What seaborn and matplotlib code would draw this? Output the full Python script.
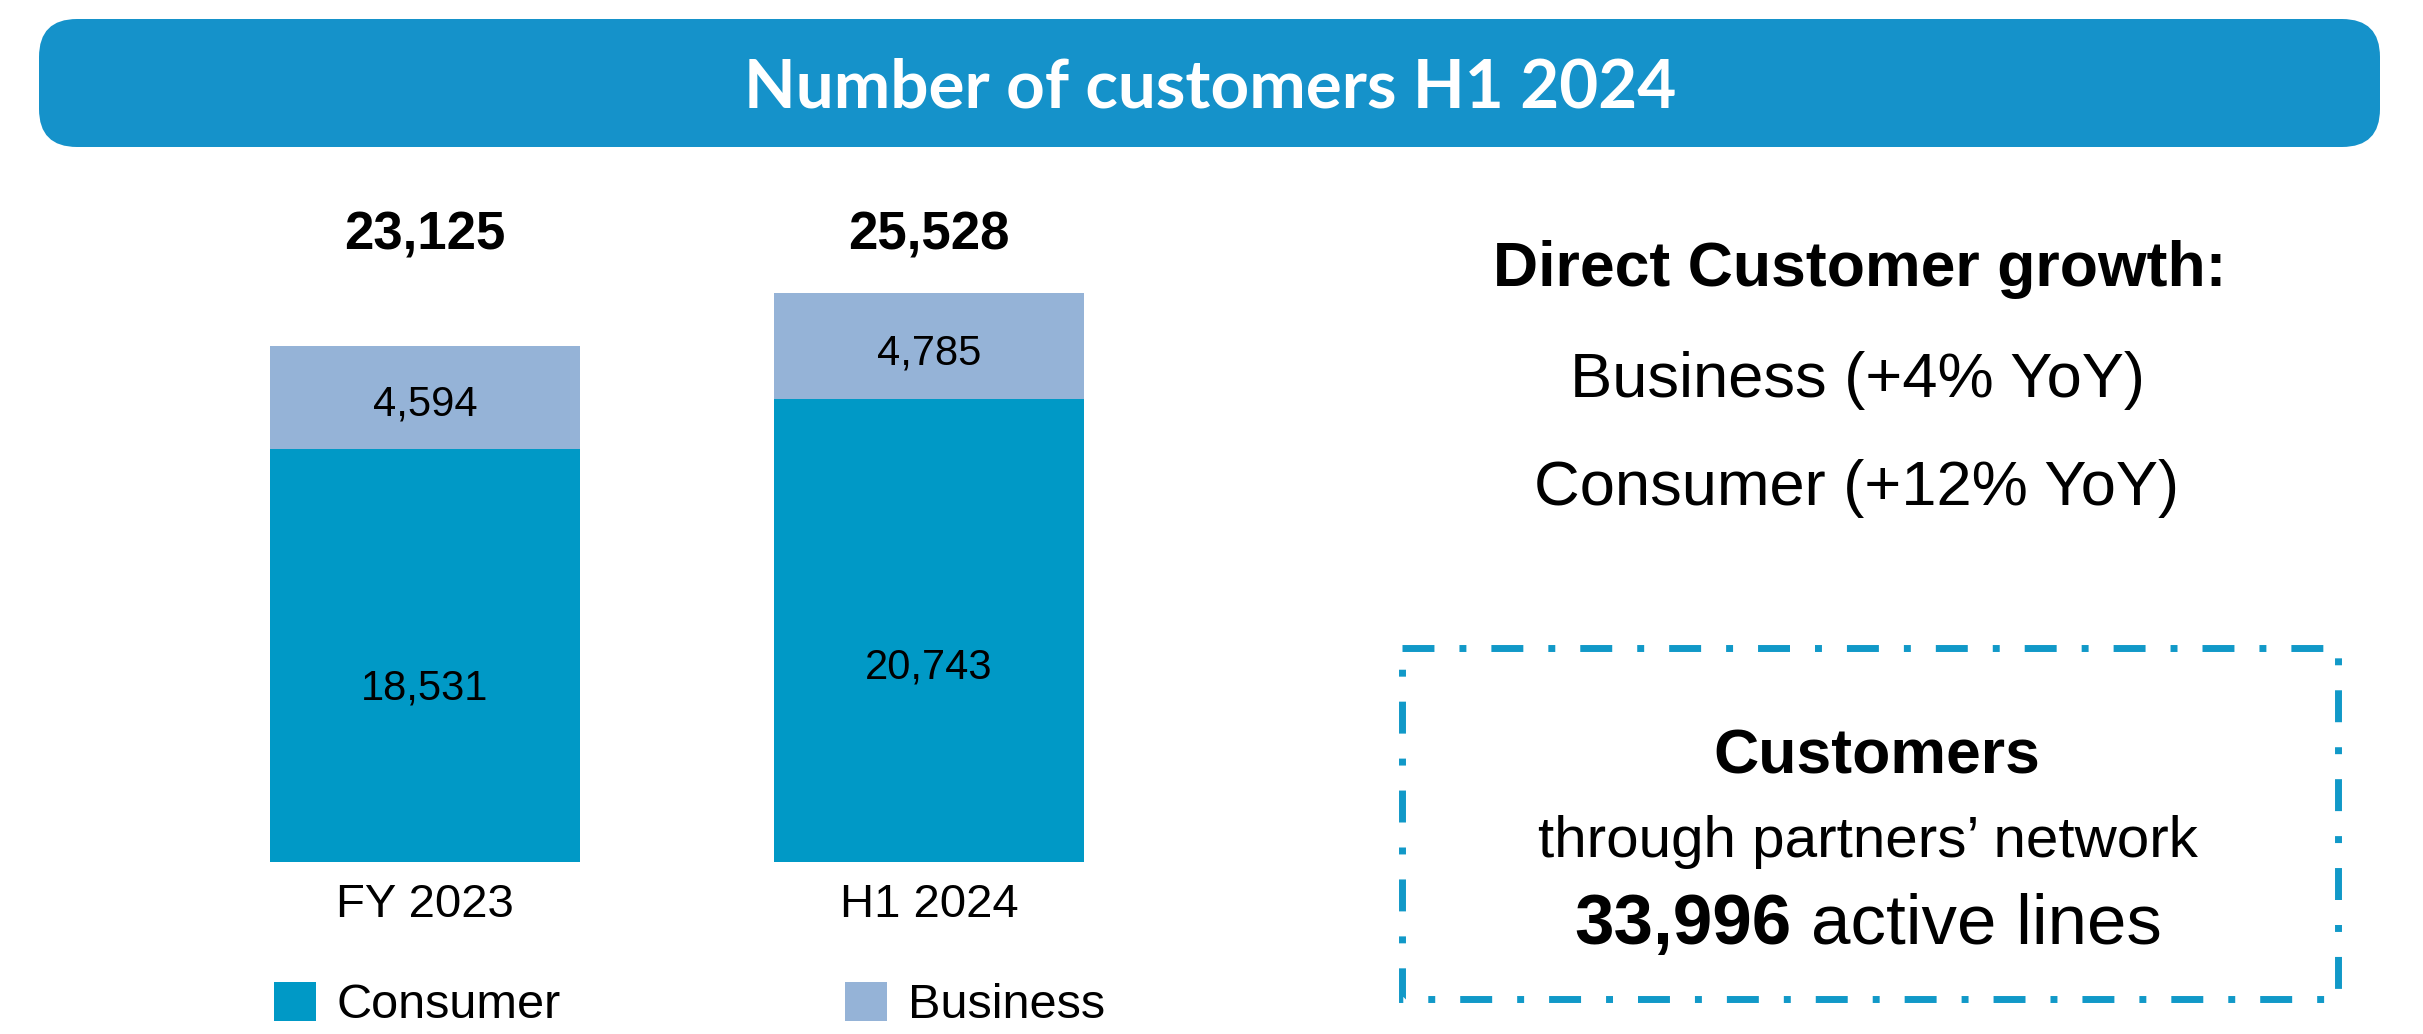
import matplotlib
matplotlib.use("Agg")
import matplotlib.pyplot as plt
from matplotlib.patches import FancyBboxPatch, Rectangle, Patch
import seaborn as sns

# ---------------- data ----------------
categories = ["FY 2023", "H1 2024"]
consumer = [18531, 20743]
business = [4594, 4785]
series_names = ["Consumer", "Business"]
title = "Number of customers H1 2024"
growth_title = "Direct Customer growth:"
growth_lines = ["Business (+4% YoY)", "Consumer (+12% YoY)"]
partner_title = "Customers"
partner_sub = "through partners\u2019 network"
partner_value = "33,996"
partner_unit = "active lines"

totals = [c + b for c, b in zip(consumer, business)]

# ---------------- style ----------------
sns.set_theme(style="white")
plt.rcParams["font.family"] = ["Liberation Sans", "DejaVu Sans"]
plt.rcParams["text.color"] = "black"
plt.rcParams["xtick.color"] = "black"
plt.rcParams["xtick.labelcolor"] = "black"
plt.rcParams["legend.labelcolor"] = "black"

C_CONS = "#0099C6"
C_BUS = "#95B3D7"
C_TITLE = "#1592CA"
C_BOX = "#1199C8"

W, H = 2423, 1034
fig = plt.figure(figsize=(W / 100, H / 100), dpi=100)

# overlay axes in pixel coordinates (y downward)
ov = fig.add_axes([0, 0, 1, 1])
ov.set_xlim(0, W)
ov.set_ylim(H, 0)
ov.axis("off")

# title bar
ov.add_patch(FancyBboxPatch((39, 19), 2341, 128,
                            boxstyle="round,pad=0,rounding_size=38",
                            facecolor=C_TITLE, edgecolor="none"))
ov.text(1210, 107, title, family=["Lato", "DejaVu Sans"], fontweight="bold",
        fontsize=48.5, color="white", ha="center", va="baseline")

# ---------------- bars ----------------
px_per_unit = 504
left = 425 - 0.5 * px_per_unit
bottom_px = 172
ax = fig.add_axes([left / W, bottom_px / H, 2 * px_per_unit / W, 669 / H])
ax.patch.set_alpha(0)

bw = 0.615
sns.barplot(x=categories, y=totals, color=C_BUS, saturation=1, width=bw,
            linewidth=0, ax=ax)
sns.barplot(x=categories, y=consumer, color=C_CONS, saturation=1, width=bw,
            linewidth=0, ax=ax)
ax.set_xlim(-0.5, 1.5)
ax.set_ylim(0, 30000)
ax.set_yticks([])
ax.set_xticks(range(len(categories)))
ax.set_xticklabels(categories, fontsize=34, color="black")
ax.tick_params(axis="x", length=0, pad=15)
ax.set_xlabel("")
ax.set_ylabel("")
sns.despine(ax=ax, left=True, bottom=True)

for i in range(len(categories)):
    ax.text(i, consumer[i] + business[i] * 0.43, f"{business[i]:,}",
            ha="center", va="center", fontsize=30, color="black")
    ax.text(i, consumer[i] * 0.42, f"{consumer[i]:,}",
            ha="center", va="center", fontsize=30, color="black")
    ax.annotate(f"{totals[i]:,}", xy=(i, H - 249),
                xycoords=("data", "figure pixels"), color="black",
                ha="center", va="baseline", fontsize=38, fontweight="bold")

# legend
handles = [Patch(facecolor=C_CONS, edgecolor="none"),
           Patch(facecolor=C_BUS, edgecolor="none")]
fig.legend(handles, series_names, ncol=2, frameon=False, fontsize=35,
           loc="center left", bbox_to_anchor=(274 / W, 1 - 1005 / H),
           borderpad=0, borderaxespad=0, handlelength=0.86, handleheight=0.86,
           handletextpad=0.43, columnspacing=5.84, labelcolor="black")

# ---------------- right text ----------------
ov.text(1860, 286, growth_title, fontsize=45, fontweight="bold",
        ha="center", va="baseline", color="black")
ov.text(1857, 397, growth_lines[0], fontsize=45.5, ha="center", va="baseline",
        color="black")
ov.text(1857, 505, growth_lines[1], fontsize=45.5, ha="center", va="baseline",
        color="black")

# dash-dot box
ov.add_patch(Rectangle((1402, 648), 2338 - 1402, 999 - 648, fill=False,
                       edgecolor=C_BOX, linewidth=5.0,
                       linestyle=(0, (4.6, 3.6, 1, 3.6)), capstyle="butt"))

ov.text(1877, 773, partner_title, fontsize=45, fontweight="bold",
        ha="center", va="baseline", color="black")
ov.text(1868, 857, partner_sub, fontsize=42, ha="center", va="baseline",
        color="black")

t1 = ov.text(0, 944, partner_value, fontsize=51, fontweight="bold",
             ha="left", va="baseline", color="black")
t2 = ov.text(0, 944, partner_unit, fontsize=51, ha="left", va="baseline",
             color="black")
r = fig.canvas.get_renderer()
w1 = t1.get_window_extent(r).width
w2 = t2.get_window_extent(r).width
gap = 0.278 * 51 * 100 / 72
x0 = 1868 - (w1 + gap + w2) / 2
t1.set_x(x0)
t2.set_x(x0 + w1 + gap)

fig.savefig("out.png", dpi=100)
